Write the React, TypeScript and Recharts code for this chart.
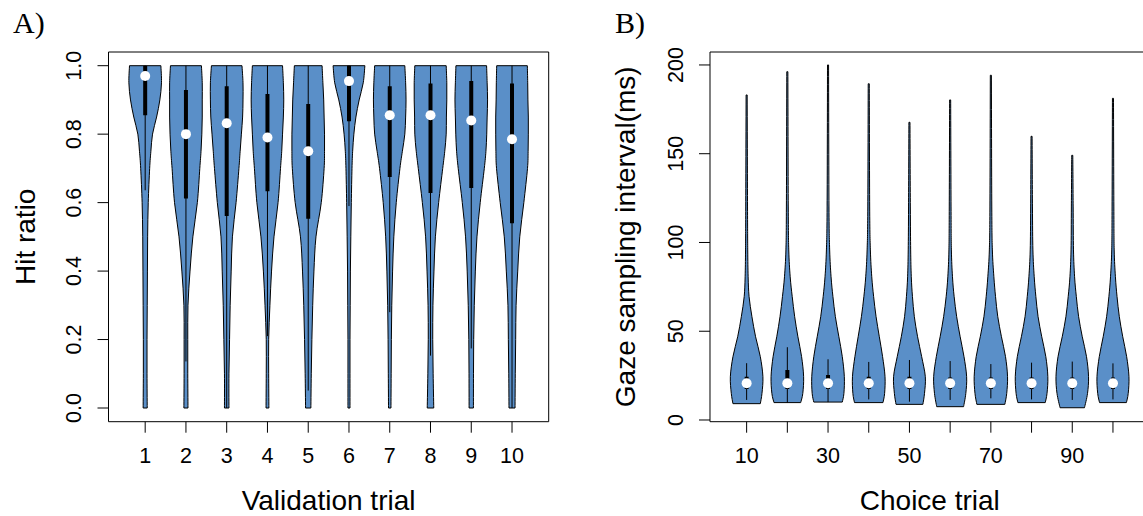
import { ReferenceArea, Scatter, ScatterChart, XAxis, YAxis } from "recharts";

const VIOLIN_FILL = "#5a8fc8";
const SANS = "'Liberation Sans', Arial, Helvetica, sans-serif";
const SERIF = "'Liberation Serif', 'Times New Roman', serif";

// A) hit ratio per validation trial
const hitTrials = [1, 2, 3, 4, 5, 6, 7, 8, 9, 10];
const hitTicks = [0, 0.2, 0.4, 0.6, 0.8, 1.0];
const hitLevels = [0, 0.1, 0.2, 0.3, 0.4, 0.5, 0.6, 0.7, 0.75, 0.8, 0.85, 0.9, 0.95, 1.0];
// half width of each violin at hitLevels (in trial units)
const hitHalfWidths = [
  [0.05, 0.045, 0.045, 0.05, 0.055, 0.06, 0.075, 0.11, 0.14, 0.18, 0.28, 0.36, 0.4, 0.385],
  [0.05, 0.045, 0.045, 0.05, 0.1, 0.17, 0.28, 0.34, 0.37, 0.39, 0.4, 0.4, 0.4, 0.38],
  [0.055, 0.055, 0.07, 0.085, 0.11, 0.14, 0.23, 0.3, 0.33, 0.36, 0.39, 0.4, 0.4, 0.375],
  [0.035, 0.03, 0.03, 0.06, 0.1, 0.16, 0.26, 0.32, 0.35, 0.37, 0.39, 0.4, 0.39, 0.37],
  [0.065, 0.075, 0.09, 0.11, 0.14, 0.19, 0.32, 0.39, 0.4, 0.4, 0.39, 0.38, 0.36, 0.34],
  [0.025, 0.025, 0.025, 0.03, 0.035, 0.045, 0.057, 0.074, 0.09, 0.12, 0.17, 0.25, 0.35, 0.39],
  [0.03, 0.035, 0.04, 0.05, 0.07, 0.1, 0.16, 0.25, 0.31, 0.37, 0.39, 0.4, 0.39, 0.37],
  [0.08, 0.065, 0.055, 0.06, 0.085, 0.12, 0.2, 0.3, 0.35, 0.385, 0.39, 0.4, 0.4, 0.385],
  [0.053, 0.055, 0.06, 0.074, 0.1, 0.14, 0.22, 0.32, 0.36, 0.38, 0.39, 0.4, 0.39, 0.376],
  [0.074, 0.08, 0.09, 0.1, 0.14, 0.19, 0.29, 0.38, 0.395, 0.4, 0.4, 0.39, 0.385, 0.376],
];
const hitMedian = [0.97, 0.8, 0.832, 0.79, 0.75, 0.955, 0.855, 0.855, 0.84, 0.785];
const hitQ1 = [0.855, 0.612, 0.561, 0.633, 0.553, 0.838, 0.675, 0.628, 0.643, 0.54];
const hitQ3 = [1.0, 0.929, 0.94, 0.917, 0.888, 1.0, 0.94, 0.948, 0.955, 0.948];
const hitWhiskLo = [0.636, 0.136, 0.0, 0.21, 0.051, 0.59, 0.28, 0.153, 0.174, 0.0];
const hitWhiskHi = [1, 1, 1, 1, 1, 1, 1, 1, 1, 1];

// B) gaze sampling interval per choice trial
const gazeTrials = [10, 20, 30, 40, 50, 60, 70, 80, 90, 100];
const gazeTicks = [0, 50, 100, 150, 200];
const gazeLabelled = [10, 30, 50, 70, 90];
const gazeMin = [9.2, 9.8, 10.1, 9.8, 8.8, 7.5, 8.8, 9.8, 6.9, 9.8];
const gazeMax = [183.1, 196.2, 200, 189.4, 167.7, 180.3, 194.2, 159.8, 149.1, 181.2];
const gazeLevels = [15, 24.4, 35.7, 46.9, 58.2, 69.5, 80.7, 95.8, 120];
// half width at [min, ...gazeLevels, max]
const gazeHalfWidths = [
  [3.36, 3.77, 4.0, 3.36, 2.2, 1.3, 0.6, 0.37, 0.27, 0.22, 0.13],
  [3.28, 3.8, 4.0, 3.5, 2.6, 1.8, 1.2, 0.7, 0.35, 0.23, 0.13],
  [3.5, 3.9, 4.0, 3.5, 2.66, 1.8, 1.2, 0.74, 0.4, 0.23, 0.13],
  [3.5, 3.9, 4.0, 3.4, 2.6, 1.8, 1.2, 0.74, 0.4, 0.23, 0.13],
  [3.3, 3.7, 3.9, 3.0, 2.0, 1.2, 0.74, 0.45, 0.3, 0.22, 0.13],
  [3.3, 3.85, 4.05, 3.4, 2.46, 1.6, 0.98, 0.57, 0.3, 0.22, 0.13],
  [3.44, 3.9, 4.1, 3.6, 2.6, 1.7, 1.15, 0.74, 0.37, 0.23, 0.13],
  [3.36, 3.8, 4.0, 3.5, 2.5, 1.6, 1.06, 0.65, 0.33, 0.22, 0.13],
  [3.0, 3.75, 4.0, 3.5, 2.46, 1.56, 1.0, 0.57, 0.3, 0.22, 0.13],
  [3.3, 3.75, 3.93, 3.36, 2.4, 1.56, 1.0, 0.6, 0.3, 0.22, 0.13],
];
const gazeMedian = [20.7, 20.7, 20.7, 20.7, 20.7, 20.7, 20.7, 20.7, 20.7, 20.7];
const gazeQ1 = [17.5, 17.5, 17.5, 17.5, 17.5, 17.5, 17.5, 17.5, 17.5, 17.5];
const gazeQ3 = [24.4, 28.2, 25.4, 24.4, 24.4, 24, 24, 24, 24, 24];
const gazeWhiskLo = [11.3, 9.8, 10.1, 11.6, 10.3, 11.3, 12.2, 11.6, 11.3, 11.6];
const gazeWhiskHi = [32.0, 41.0, 34.2, 32.7, 33.8, 33.2, 31.5, 32.3, 32.9, 31.9];

type Pt = { x: number; y: number };

// left side bottom -> top, then right side top -> bottom
function outline(center: number, levels: number[], widths: number[]): Pt[] {
  const left = levels.map((v, i) => ({ x: center - widths[i], y: v }));
  const right = levels.map((v, i) => ({ x: center + widths[i], y: v })).reverse();
  return [...left, ...right];
}

function pairs(xs: number[], lo: number[], hi: number[]): Pt[] {
  return xs.flatMap((x, i) => [
    { x, y: lo[i] },
    { x, y: hi[i] },
  ]);
}

// catmull-rom through pixel points
function smooth(pts: Pt[]) {
  let d = "";
  for (let i = 0; i < pts.length - 1; i++) {
    const p0 = pts[i - 1] ?? pts[i];
    const p1 = pts[i];
    const p2 = pts[i + 1];
    const p3 = pts[i + 2] ?? p2;
    const c1x = p1.x + (p2.x - p0.x) / 6;
    const c1y = p1.y + (p2.y - p0.y) / 6;
    const c2x = p2.x - (p3.x - p1.x) / 6;
    const c2y = p2.y - (p3.y - p1.y) / 6;
    d += ` C${c1x},${c1y} ${c2x},${c2y} ${p2.x},${p2.y}`;
  }
  return d;
}

const violinLine = (props: any) => {
  const pts: Pt[] = props.points;
  const n = pts.length / 2;
  const left = pts.slice(0, n);
  const right = pts.slice(n);
  const d = `M${left[0].x},${left[0].y}${smooth(left)} L${right[0].x},${right[0].y}${smooth(right)} Z`;
  return <path d={d} fill={VIOLIN_FILL} stroke="#000" strokeWidth={1} strokeLinejoin="round" />;
};

const segmentLine = (w: number) => (props: any) => {
  const pts: Pt[] = props.points;
  let d = "";
  for (let i = 0; i + 1 < pts.length; i += 2) {
    d += `M${pts[i].x},${pts[i].y}L${pts[i + 1].x},${pts[i + 1].y}`;
  }
  return <path d={d} fill="none" stroke="#000" strokeWidth={w} />;
};

const noShape = () => <g />;
const medianDot = (p: any) => <circle cx={p.cx} cy={p.cy} r={5} fill="#fff" />;

const YTick = (props: any) => {
  const { x, y, payload, fmt } = props;
  return (
    <text
      transform={`translate(${x - 16.5},${y}) rotate(-90)`}
      textAnchor="middle"
      fontFamily={SANS}
      fontSize={21.5}
      fill="#000"
    >
      {fmt(payload.value)}
    </text>
  );
};

const XTick = (props: any) => {
  const { x, y, payload, fmt } = props;
  return (
    <text x={x} y={y + 30.6} textAnchor="middle" fontFamily={SANS} fontSize={21.5} fill="#000">
      {fmt(payload.value)}
    </text>
  );
};

type PanelProps = {
  left: number;
  width: number;
  margin: { top: number; left: number; right: number; bottom: number };
  xDomain: [number, number];
  yDomain: [number, number];
  xTicks: number[];
  yTicks: number[];
  xFmt: (v: number) => string;
  yFmt: (v: number) => string;
  violins: Pt[][];
  whiskers: Pt[];
  boxes: Pt[];
  medians: Pt[];
};

function ViolinPanel(p: PanelProps) {
  return (
    <div style={{ position: "absolute", left: p.left, top: 0 }}>
      <ScatterChart width={p.width} height={516} margin={p.margin}>
        <XAxis
          type="number"
          dataKey="x"
          domain={p.xDomain}
          ticks={p.xTicks}
          interval={0}
          allowDataOverflow
          height={1}
          axisLine={false}
          tickSize={11}
          tickMargin={0}
          stroke="#000"
          tickLine={{ stroke: "#000" }}
          tick={<XTick fmt={p.xFmt} />}
        />
        <YAxis
          type="number"
          dataKey="y"
          domain={p.yDomain}
          ticks={p.yTicks}
          interval={0}
          allowDataOverflow
          width={1}
          axisLine={false}
          tickSize={11}
          tickMargin={0}
          stroke="#000"
          tickLine={{ stroke: "#000" }}
          tick={<YTick fmt={p.yFmt} />}
        />
        {p.violins.map((pts, i) => (
          <Scatter
            key={i}
            data={pts}
            line={violinLine}
            shape={noShape}
            legendType="none"
            isAnimationActive={false}
          />
        ))}
        <Scatter data={p.whiskers} line={segmentLine(1)} shape={noShape} isAnimationActive={false} />
        <Scatter data={p.boxes} line={segmentLine(4)} shape={noShape} isAnimationActive={false} />
        <Scatter data={p.medians} shape={medianDot} isAnimationActive={false} />
        <ReferenceArea
          x1={p.xDomain[0]}
          x2={p.xDomain[1]}
          y1={p.yDomain[0]}
          y2={p.yDomain[1]}
          fill="none"
          stroke="#000"
          strokeWidth={1}
          ifOverflow="visible"
        />
      </ScatterChart>
    </div>
  );
}

export default function App() {
  const hitViolins = hitTrials.map((t, i) => outline(t, hitLevels, hitHalfWidths[i]));
  const gazeViolins = gazeTrials.map((t, i) =>
    outline(t, [gazeMin[i], ...gazeLevels, gazeMax[i]], gazeHalfWidths[i]),
  );

  return (
    <div
      style={{
        position: "absolute",
        left: 0,
        top: 0,
        width: 1143,
        height: 516,
        overflow: "hidden",
        background: "#fff",
      }}
    >
      <ViolinPanel
        left={0}
        width={560}
        margin={{ top: 52, left: 107.5, right: 11.3, bottom: 93.3 }}
        xDomain={[0.1, 10.9]}
        yDomain={[-0.04, 1.04]}
        xTicks={hitTrials}
        yTicks={hitTicks}
        xFmt={(v) => String(v)}
        yFmt={(v) => v.toFixed(1)}
        violins={hitViolins}
        whiskers={pairs(hitTrials, hitWhiskLo, hitWhiskHi)}
        boxes={pairs(hitTrials, hitQ1, hitQ3)}
        medians={hitTrials.map((x, i) => ({ x, y: hitMedian[i] }))}
      />
      <ViolinPanel
        left={580}
        width={580}
        margin={{ top: 52, left: 129, right: 10.4, bottom: 93.3 }}
        xDomain={[1, 109]}
        yDomain={[-0.96, 207.3]}
        xTicks={gazeTrials}
        yTicks={gazeTicks}
        xFmt={(v) => (gazeLabelled.includes(v) ? String(v) : "")}
        yFmt={(v) => String(v)}
        violins={gazeViolins}
        whiskers={pairs(gazeTrials, gazeWhiskLo, gazeWhiskHi)}
        boxes={pairs(gazeTrials, gazeQ1, gazeQ3)}
        medians={gazeTrials.map((x, i) => ({ x, y: gazeMedian[i] }))}
      />
      <svg
        width={1143}
        height={516}
        style={{ position: "absolute", left: 0, top: 0, pointerEvents: "none" }}
      >
        <text x={13} y={33} fontFamily={SERIF} fontSize={30} fill="#000">
          A)
        </text>
        <text x={615} y={33} fontFamily={SERIF} fontSize={30} fill="#000">
          B)
        </text>
        <text
          transform="translate(35,236.8) rotate(-90)"
          textAnchor="middle"
          fontFamily={SANS}
          fontSize={28}
          fill="#000"
        >
          Hit ratio
        </text>
        <text
          transform="translate(635,236.8) rotate(-90)"
          textAnchor="middle"
          fontFamily={SANS}
          fontSize={28}
          fill="#000"
        >
          Gaze sampling interval(ms)
        </text>
        <text x={328.6} y={510} textAnchor="middle" fontFamily={SANS} fontSize={28} fill="#000">
          Validation trial
        </text>
        <text x={929.8} y={510} textAnchor="middle" fontFamily={SANS} fontSize={28} fill="#000">
          Choice trial
        </text>
      </svg>
    </div>
  );
}
